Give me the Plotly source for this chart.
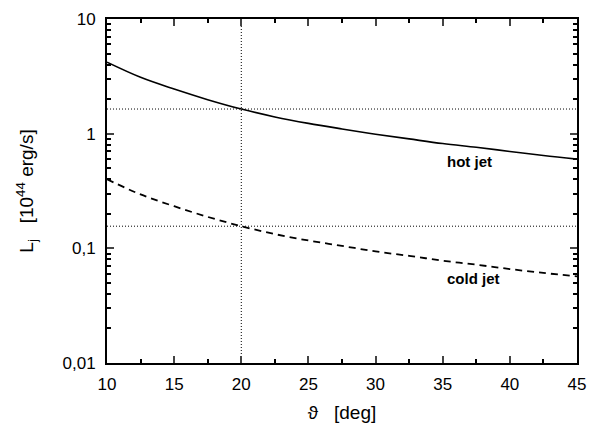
import math
import plotly.graph_objects as go

# Data
theta = [10, 12.5, 15, 17.5, 20, 22.5, 25, 27.5, 30, 32.5, 35, 37.5, 40, 42.5, 45]
hot_jet = [4.2, 3.1, 2.45, 1.98, 1.64, 1.40, 1.23, 1.10, 0.99, 0.90, 0.82, 0.76, 0.70, 0.645, 0.60]
cold_jet = [0.40, 0.295, 0.233, 0.188, 0.156, 0.133, 0.117, 0.105, 0.094, 0.086, 0.078, 0.072, 0.066, 0.061, 0.057]

ref_theta = 20
ref_hot = 1.64
ref_cold = 0.156

x_ticks = [10, 15, 20, 25, 30, 35, 40, 45]
x_minor = [12.5, 17.5, 22.5, 27.5, 32.5, 37.5, 42.5]
y_tickvals = [0.01, 0.1, 1, 10]
y_ticktext = ["0,01", "0,1", "1", "10"]

x_range = [10, 45]
y_range = [0.01, 10]

label_hot = ("hot jet", 37.0, 0.57)
label_cold = ("cold jet", 37.3, 0.0546)

FONT = "Liberation Sans, Arial, sans-serif"

fig = go.Figure()

dot = dict(color="black", width=1, dash="1px,2px")
fig.add_trace(go.Scatter(x=x_range, y=[ref_hot, ref_hot], mode="lines", line=dot, hoverinfo="skip"))
fig.add_trace(go.Scatter(x=x_range, y=[ref_cold, ref_cold], mode="lines", line=dot, hoverinfo="skip"))
fig.add_trace(go.Scatter(x=[ref_theta, ref_theta], y=y_range, mode="lines", line=dot, hoverinfo="skip"))

fig.add_trace(go.Scatter(x=theta, y=hot_jet, mode="lines", name="hot jet",
                         line=dict(color="black", width=1.6, shape="spline")))
fig.add_trace(go.Scatter(x=theta, y=cold_jet, mode="lines", name="cold jet",
                         line=dict(color="black", width=1.8, dash="7px,5px", shape="spline")))

for text, lx, ly in (label_hot, label_cold):
    fig.add_annotation(x=lx, y=math.log10(ly), text=f"<b>{text}</b>", showarrow=False,
                       font=dict(family=FONT, size=15, color="black"))

minor_y = [m * 10 ** e for e in (-2, -1, 0) for m in range(2, 10)]

fig.update_xaxes(
    range=x_range, tickvals=x_ticks, ticks="inside", ticklen=7, tickwidth=1.5,
    showline=True, linecolor="black", linewidth=2, mirror="allticks",
    showgrid=False, zeroline=False, ticklabelstandoff=5,
    tickfont=dict(family=FONT, size=17, color="black"),
    minor=dict(tickvals=x_minor, ticks="inside",
               ticklen=4, tickwidth=1.5, tickcolor="black", showgrid=False),
    title=dict(text="\u03d1   [deg]", font=dict(family=FONT, size=19, color="black"), standoff=12),
)
fig.update_yaxes(
    type="log", range=[-2, 1], tickvals=y_tickvals, ticktext=y_ticktext,
    ticks="inside", ticklen=7, tickwidth=1.5,
    showline=True, linecolor="black", linewidth=2, mirror="allticks",
    showgrid=False, zeroline=False, ticklabelstandoff=6,
    tickfont=dict(family=FONT, size=17, color="black"),
    minor=dict(tickvals=minor_y, ticks="inside", ticklen=4, tickwidth=1.5,
               tickcolor="black", showgrid=False),
    title=dict(text="L<sub>j</sub>   [10<sup>44</sup> erg/s]",
               font=dict(family=FONT, size=19, color="black"), standoff=24),
)

fig.update_layout(
    width=596, height=432, showlegend=False,
    margin=dict(l=107, r=13, t=10, b=69),
    plot_bgcolor="white", paper_bgcolor="white",
)

fig.write_html("out.html")
